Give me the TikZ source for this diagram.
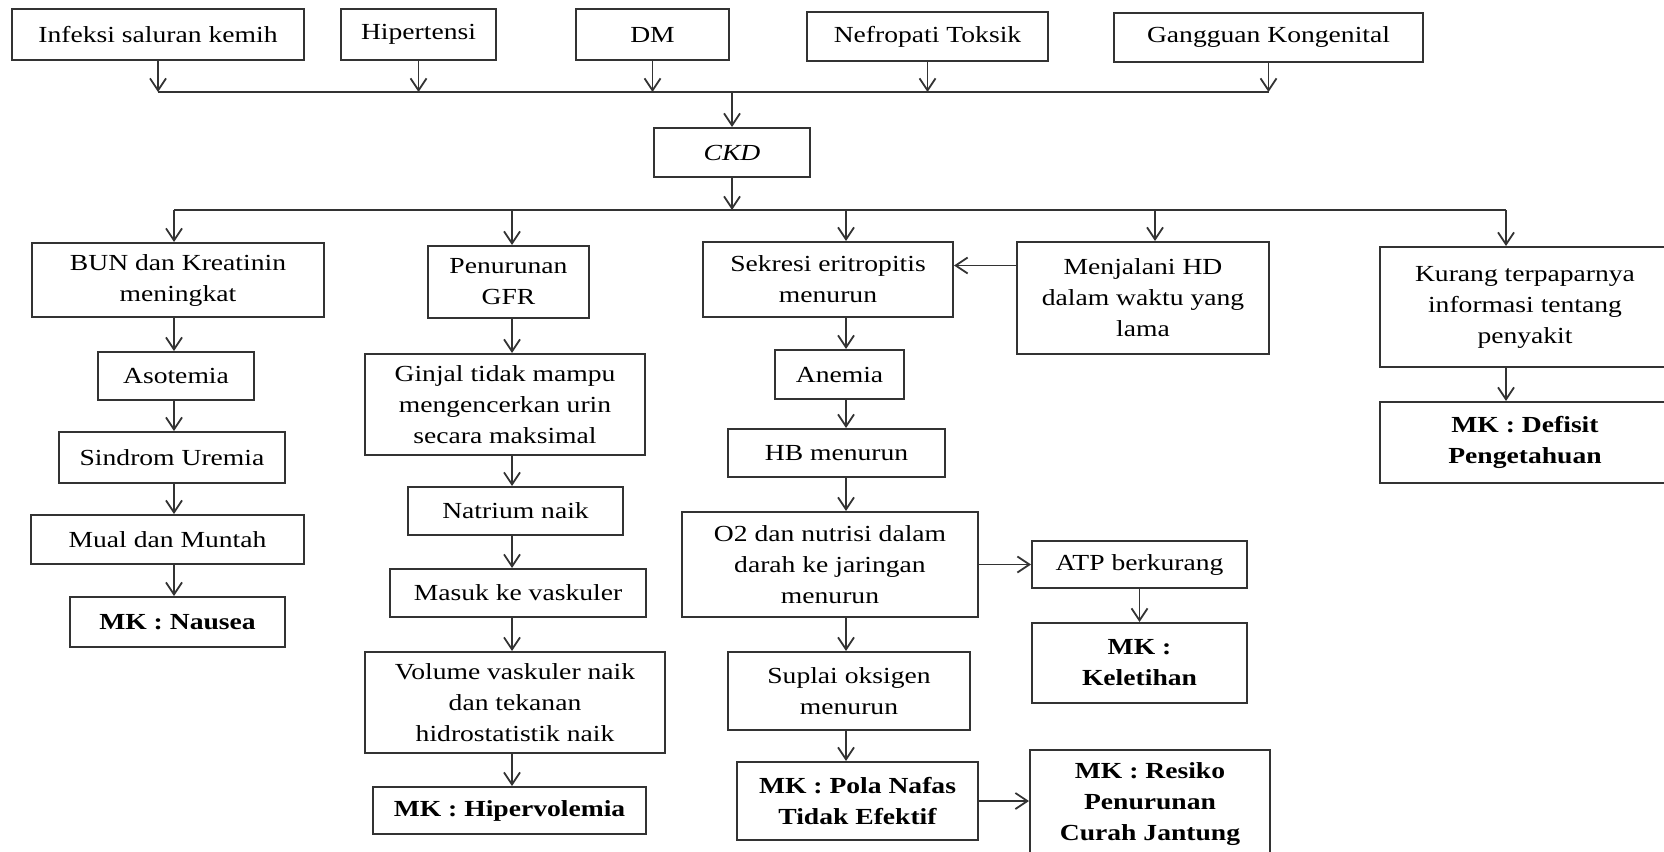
\documentclass[tikz,border=0pt]{standalone}
\usepackage{fontspec}
\setmainfont{Liberation Serif}[FakeStretch=1.2]
\usetikzlibrary{arrows.meta}
\colorlet{linecol}{black!80}
\tikzset{box/.style 2 args={draw=linecol, line width=1pt, align=center, inner sep=0pt,
    minimum width=#1*0.5pt, minimum height=#2*0.5pt, font=\fontsize{11.5}{15.5}\selectfont}}
\tikzstyle{mk}=[font=\fontsize{11.5}{15.5}\selectfont\bfseries]
\tikzstyle{arr}=[draw=linecol, line width=0.9pt, -{Straight Barb[length=6pt,width=8pt]}]
\tikzstyle{bus}=[draw=linecol, line width=0.9pt]

\begin{document}
\begin{tikzpicture}[x=0.5pt, y=-0.5pt]
  \useasboundingbox (0,0) rectangle (1664,851);

  % penyebab
  \node[box={292}{51}] (inf) at (158,34.5) {Infeksi saluran kemih};
  \node[box={155}{51}] (hip) at (418.5,34.5) {Hipertensi};
  \node[box={153}{51}] (dm) at (652.5,34.5) {DM};
  \node[box={241}{49}] (nef) at (927.5,36.5) {Nefropati Toksik};
  \node[box={309}{49}] (gang) at (1268.5,37.5) {Gangguan Kongenital};
  \node[box={156}{49}] (ckd) at (732,152.5) {\itshape CKD};

  \coordinate (bus1) at (732,92);
  \coordinate (bus2) at (732,210);
  \coordinate (c1) at (174,0);
  \coordinate (c2) at (512,0);
  \coordinate (c3) at (846,0);
  \coordinate (c4) at (1155,0);
  \coordinate (c5) at (1506,0);

  % kolom 1
  \node[box={292}{74}] (bun) at (178,280) {BUN dan Kreatinin\\meningkat};
  \node[box={156}{48}] (aso) at (176,376) {Asotemia};
  \node[box={226}{51}] (sin) at (172,457.5) {Sindrom Uremia};
  \node[box={273}{49}] (mual) at (167.5,539.5) {Mual dan Muntah};
  \node[box={215}{50}, mk] (naus) at (177.5,622) {MK : Nausea};

  % kolom 2
  \node[box={161}{72}] (gfr) at (508.5,282) {Penurunan\\GFR};
  \node[box={280}{101}] (gin) at (505,404.5) {Ginjal tidak mampu\\mengencerkan urin\\secara maksimal};
  \node[box={215}{48}] (nat) at (515.5,511) {Natrium naik};
  \node[box={256}{48}] (mas) at (518,593) {Masuk ke vaskuler};
  \node[box={300}{101}] (vol) at (515,702.5) {Volume vaskuler naik\\dan tekanan\\hidrostatistik naik};
  \node[box={273}{47}, mk] (hiper) at (509.5,810.5) {MK : Hipervolemia};

  % kolom 3
  \node[box={250}{75}] (sek) at (828,279.5) {Sekresi eritropitis\\menurun};
  \node[box={129}{49}] (ane) at (839.5,374.5) {Anemia};
  \node[box={217}{48}] (hb) at (836.5,453) {HB menurun};
  \node[box={296}{105}] (o2) at (830,564.5) {O2 dan nutrisi dalam\\darah ke jaringan\\menurun};
  \node[box={242}{78}] (sup) at (849,691) {Suplai oksigen\\menurun};
  \node[box={241}{78}, mk] (pola) at (857.5,801) {MK : Pola Nafas\\Tidak Efektif};

  % kolom 4
  \node[box={252}{112}] (hd) at (1143,298) {Menjalani HD\\dalam waktu yang\\lama};
  \node[box={215}{47}] (atp) at (1139.5,564.5) {ATP berkurang};
  \node[box={215}{80}, mk] (kel) at (1139.5,663) {MK :\\Keletihan};
  \node[box={240}{108}, mk] (res) at (1150,804) {MK : Resiko\\Penurunan\\Curah Jantung};

  % kolom 5
  \node[box={290}{120}] (kur) at (1525,307) {Kurang terpaparnya\\informasi tentang\\penyakit};
  \node[box={290}{81}, mk] (def) at (1525,442.5) {MK : Defisit\\Pengetahuan};

  % panah
  \foreach \n in {inf,hip,dm,nef,gang}
    \draw[arr] (\n.south) -- (\n.south |- bus1);
  \draw[bus] (inf.south |- bus1) -- (gang.south |- bus1);
  \draw[arr] (bus1) -- (ckd.north);
  \draw[arr] (ckd.south) -- (bus2);
  \draw[bus] (c1 |- bus2) -- (c5 |- bus2);
  \draw[arr] (c1 |- bus2) -- (bun.north -| c1);
  \draw[arr] (c2 |- bus2) -- (gfr.north -| c2);
  \draw[arr] (c3 |- bus2) -- (sek.north -| c3);
  \draw[arr] (c4 |- bus2) -- (hd.north -| c4);
  \draw[arr] (c5 |- bus2) -- (kur.north -| c5);

  \foreach \a/\b in {bun/aso,aso/sin,sin/mual,mual/naus}
    \draw[arr] (\a.south -| c1) -- (\b.north -| c1);
  \foreach \a/\b in {gfr/gin,gin/nat,nat/mas,mas/vol,vol/hiper}
    \draw[arr] (\a.south -| c2) -- (\b.north -| c2);
  \foreach \a/\b in {sek/ane,ane/hb,hb/o2,o2/sup,sup/pola}
    \draw[arr] (\a.south -| c3) -- (\b.north -| c3);
  \draw[arr] (kur.south -| c5) -- (def.north -| c5);
  \draw[arr] (atp.south) -- (kel.north);

  \draw[arr] ([yshift=7pt]sek.east -| hd.west) -- ([yshift=7pt]sek.east);
  \draw[arr] (o2.east) -- (atp.west);
  \draw[arr] (pola.east) -- (pola.east -| res.west);
\end{tikzpicture}
\end{document}
